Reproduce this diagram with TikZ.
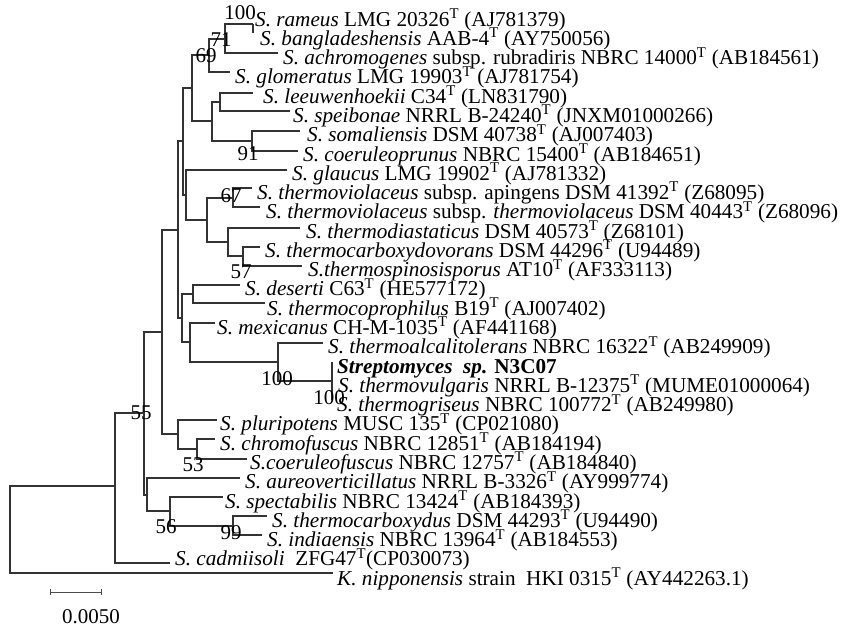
\documentclass[tikz,border=0pt]{standalone}
\usepackage{fontspec}
\setmainfont{Liberation Serif}
\newcommand{\Ts}{\textsuperscript{T}}
\begin{document}
\begin{tikzpicture}[x=1pt,y=-1pt,
  br/.style={line width=1.2pt, draw=black!80},
  lab/.style={anchor=base west, inner sep=0pt, font=\fontsize{21.2}{24}\selectfont},
  bs/.style={anchor=center, inner sep=0pt, font=\fontsize{21}{24}\selectfont}]
\useasboundingbox (0,0) rectangle (841,635);
% ---------- coordinates (internal nodes and leaf ends)
\coordinate (r) at (10,529);
\coordinate (kL) at (333,573);
\coordinate (n115) at (115,486);
\coordinate (cadL) at (170,563);
\coordinate (n144) at (144,413);
\coordinate (n147) at (147,495);
\coordinate (aurL) at (240,478);
\coordinate (n170) at (170,511);
\coordinate (speL) at (223,497);
\coordinate (n233b) at (233,526);
\coordinate (tcxL) at (267,516);
\coordinate (indL) at (262,535);
\coordinate (n162) at (162,332);
\coordinate (n178) at (178,434);
\coordinate (pluL) at (217,420);
\coordinate (n197) at (197,449);
\coordinate (chrL) at (215,439);
\coordinate (cfuL) at (247,459);
\coordinate (nU) at (178,230);
\coordinate (n183) at (183,141);
\coordinate (n192) at (192,88);
\coordinate (n209) at (209,55);
\coordinate (n225) at (225,39);
\coordinate (n253) at (253,24);
\coordinate (bgL) at (253,33);
\coordinate (achL) at (278,53);
\coordinate (gloL) at (230,72);
\coordinate (n212) at (212,121);
\coordinate (n220) at (220,102);
\coordinate (leeL) at (253,93);
\coordinate (spbL) at (290,111);
\coordinate (n252) at (252,141);
\coordinate (somL) at (300,131);
\coordinate (cpnL) at (298,151);
\coordinate (n186) at (186,195);
\coordinate (glaL) at (287,170);
\coordinate (n207) at (207,220);
\coordinate (n233) at (233,198);
\coordinate (apiL) at (252,188);
\coordinate (tviL) at (260,207);
\coordinate (n228) at (228,242);
\coordinate (tdiL) at (300,228);
\coordinate (n243) at (243,256);
\coordinate (tcvL) at (260,247);
\coordinate (tspL) at (302,266);
\coordinate (n182) at (182,318);
\coordinate (n193) at (193,294);
\coordinate (desL) at (240,285);
\coordinate (tcpL) at (265,303);
\coordinate (n190) at (190,342);
\coordinate (mexL) at (215,323);
\coordinate (n278) at (278,362);
\coordinate (talL) at (323,343);
\coordinate (n332) at (332,381);
\coordinate (n3L) at (332,362);
\coordinate (tgrL) at (332,400);
% ---------- branches
\draw[br] (r) |- (n115) (r) |- (kL);
\draw[br] (n115) |- (n144) (n115) |- (cadL);
\draw[br] (n144) |- (n162) (n144) |- (n147);
\draw[br] (n147) |- (aurL) (n147) |- (n170);
\draw[br] (n170) |- (speL) (n170) |- (n233b);
\draw[br] (n233b) |- (tcxL) (n233b) |- (indL);
\draw[br] (n162) |- (nU) (n162) |- (n178);
\draw[br] (n178) |- (pluL) (n178) |- (n197);
\draw[br] (n197) |- (chrL) (n197) |- (cfuL);
\draw[br] (nU) |- (n183) (nU) |- (n182);
\draw[br] (n183) |- (n192) (n183) |- (n186);
\draw[br] (n192) |- (n209) (n192) |- (n212);
\draw[br] (n209) |- (n225) (n209) |- (gloL);
\draw[br] (n225) |- (n253) (n225) |- (achL);
\draw[br] (n253) -- (bgL);
\draw[br] (n212) |- (n220) (n212) |- (n252);
\draw[br] (n220) |- (leeL) (n220) |- (spbL);
\draw[br] (n252) |- (somL) (n252) |- (cpnL);
\draw[br] (n186) |- (glaL) (n186) |- (n207);
\draw[br] (n207) |- (n233) (n207) |- (n228);
\draw[br] (n233) |- (apiL) (n233) |- (tviL);
\draw[br] (n228) |- (tdiL) (n228) |- (n243);
\draw[br] (n243) |- (tcvL) (n243) |- (tspL);
\draw[br] (n182) |- (n193) (n182) |- (n190);
\draw[br] (n193) |- (desL) (n193) |- (tcpL);
\draw[br] (n190) |- (mexL) (n190) |- (n278);
\draw[br] (n278) |- (talL) (n278) |- (n332);
\draw[br] (n3L) -- (tgrL);
% ---------- bootstrap values
\node[bs] (b1) at (240,13) {100};
\node[bs] (b2) at (221,40) {71};
\node[bs] (b3) at (206,56) {69};
\node[bs] (b4) at (248,154) {91};
\node[bs] (b5) at (231,196) {67};
\node[bs] (b6) at (241,272) {57};
\node[bs] (b7) at (277,379) {100};
\node[bs] (b8) at (329,398) {100};
\node[bs] (b9) at (141,413) {55};
\node[bs] (b10) at (193,465) {53};
\node[bs] (b11) at (166,527) {56};
\node[bs] (b12) at (231,533) {99};
% ---------- taxa
\node[lab] (t1) at (255,26.0) {\textit{S. rameus} LMG 20326\Ts{} (AJ781379)};
\node[lab] (t2) at (260,45.3) {\textit{S. bangladeshensis} AAB-4\Ts{} (AY750056)};
\node[lab] (t3) at (283,64.6) {\textit{S. achromogenes} subsp. rubradiris NBRC 14000\Ts{} (AB184561)};
\node[lab] (t4) at (235,83.8) {\textit{S. glomeratus} LMG 19903\Ts{} (AJ781754)};
\node[lab] (t5) at (263,103.1) {\textit{S. leeuwenhoekii} C34\Ts{} (LN831790)};
\node[lab] (t6) at (293,122.4) {\textit{S. speibonae} NRRL B-24240\Ts{} (JNXM01000266)};
\node[lab] (t7) at (307,141.7) {\textit{S. somaliensis} DSM 40738\Ts{} (AJ007403)};
\node[lab] (t8) at (303,161.0) {\textit{S. coeruleoprunus} NBRC 15400\Ts{} (AB184651)};
\node[lab] (t9) at (292,180.2) {\textit{S. glaucus} LMG 19902\Ts{} (AJ781332)};
\node[lab] (t10) at (257,199.5) {\textit{S. thermoviolaceus} subsp. apingens DSM 41392\Ts{} (Z68095)};
\node[lab] (t11) at (266,218.8) {\textit{S. thermoviolaceus} subsp. \textit{thermoviolaceus} DSM 40443\Ts{} (Z68096)};
\node[lab] (t12) at (306,238.1) {\textit{S. thermodiastaticus} DSM 40573\Ts{} (Z68101)};
\node[lab] (t13) at (265,257.4) {\textit{S. thermocarboxydovorans} DSM 44296\Ts{} (U94489)};
\node[lab] (t14) at (308,276.6) {\textit{S.thermospinosisporus} AT10\Ts{} (AF333113)};
\node[lab] (t15) at (245,295.9) {\textit{S. deserti} C63\Ts{} (HE577172)};
\node[lab] (t16) at (267,315.2) {\textit{S. thermocoprophilus} B19\Ts{} (AJ007402)};
\node[lab] (t17) at (217,334.5) {\textit{S. mexicanus} CH-M-1035\Ts{} (AF441168)};
\node[lab] (t18) at (328,353.8) {\textit{S. thermoalcalitolerans} NBRC 16322\Ts{} (AB249909)};
\node[lab] (t19) at (337,373.0) {\textbf{\textit{Streptomyces\ \ sp.} N3C07}};
\node[lab] (t20) at (338,392.3) {\textit{S. thermovulgaris} NRRL B-12375\Ts{} (MUME01000064)};
\node[lab] (t21) at (337,411.6) {\textit{S. thermogriseus} NBRC 100772\Ts{} (AB249980)};
\node[lab] (t22) at (220,430.9) {\textit{S. pluripotens} MUSC 135\Ts{} (CP021080)};
\node[lab] (t23) at (220,450.2) {\textit{S. chromofuscus} NBRC 12851\Ts{} (AB184194)};
\node[lab] (t24) at (250,469.4) {\textit{S.coeruleofuscus} NBRC 12757\Ts{} (AB184840)};
\node[lab] (t25) at (245,488.7) {\textit{S. aureoverticillatus} NRRL B-3326\Ts{} (AY999774)};
\node[lab] (t26) at (225,508.0) {\textit{S. spectabilis} NBRC 13424\Ts{} (AB184393)};
\node[lab] (t27) at (272,527.3) {\textit{S. thermocarboxydus} DSM 44293\Ts{} (U94490)};
\node[lab] (t28) at (267,546.6) {\textit{S. indiaensis} NBRC 13964\Ts{} (AB184553)};
\node[lab] (t29) at (175,565.8) {\textit{S. cadmiisoli}\ \ ZFG47\Ts(CP030073)};
\node[lab] (t30) at (337,585.1) {\textit{K. nipponensis} strain\ \ HKI 0315\Ts{} (AY442263.1)};
% ---------- scale bar
\coordinate (s1) at (50,592);
\coordinate (s2) at (101,592);
\draw[line width=1pt, draw=black!70] (s1) -- (s2);
\draw[line width=1pt, draw=black!70] ([yshift=3pt]s1) -- ([yshift=-3pt]s1);
\draw[line width=1pt, draw=black!70] ([yshift=3pt]s2) -- ([yshift=-3pt]s2);
\node[bs] (sl) at (91,617) {0.0050};
\end{tikzpicture}
\end{document}
